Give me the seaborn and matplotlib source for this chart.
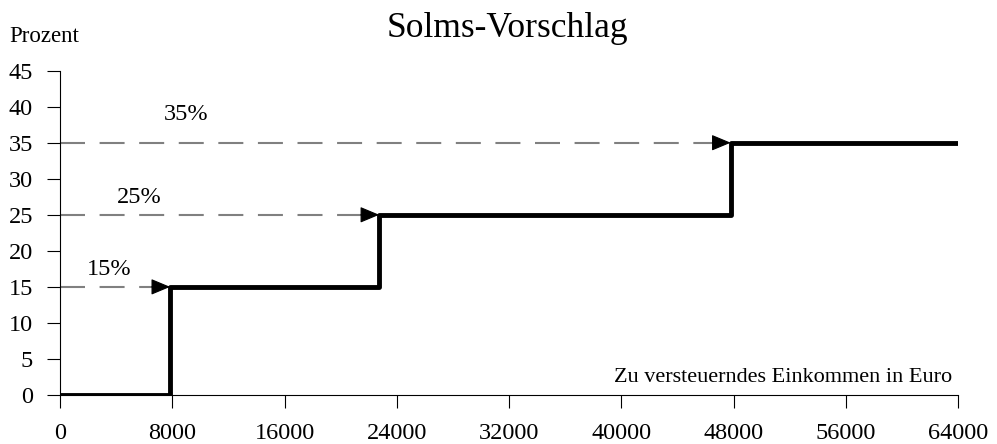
import numpy as np
import pandas as pd
import matplotlib.pyplot as plt
import seaborn as sns

# Solms proposal: step tax rate over taxable income
income = [0, 7850, 22750, 47800, 64000]
rate = [0, 15, 25, 35, 35]

# dashed arrow annotations (rate level, step income, label position)
arrow_rates = [15, 25, 35]
arrow_ends = [7850, 22750, 47800]
label_texts = ["15%", "25%", "35%"]
label_x = [3490, 5630, 9020]
label_y = [16.6, 26.7, 38.1]

x_ticks = list(range(0, 64001, 8000))
y_ticks = list(range(0, 46, 5))

sns.set_style("ticks", {'text.color': 'black', 'axes.edgecolor': 'black',
                        'xtick.color': 'black', 'ytick.color': 'black',
                        'axes.labelcolor': 'black'})
plt.rcParams['font.family'] = ['Liberation Serif', 'DejaVu Serif']

data = pd.DataFrame({'income': income, 'rate': rate})

fig = plt.figure(figsize=(9.97, 4.44), dpi=100)
ax = fig.add_axes([0.0602, 0.1104, 0.9007, 0.7305])

sns.lineplot(data=data, x='income', y='rate', drawstyle='steps-post',
             color='black', linewidth=3.5, estimator=None, sort=False, ax=ax)

for r, xe, t, lx, ly in zip(arrow_rates, arrow_ends, label_texts, label_x, label_y):
    ax.plot([0, xe - 900], [r, r], color='gray', linewidth=1.5,
            dashes=(12, 7), zorder=1)
    ax.annotate('', xy=(xe, r), xytext=(xe - 1300, r),
                arrowprops=dict(arrowstyle='-|>,head_length=0.6,head_width=0.25',
                                color='black', lw=0.8,
                                mutation_scale=20, shrinkA=0, shrinkB=0))
    ax.text(lx, ly, t, fontsize=17.5, ha='center', va='baseline', color='black')

ax.set_xlim(0, 64000)
ax.set_ylim(0, 45)
ax.set_xticks(x_ticks)
ax.set_yticks(y_ticks)
ax.set_xlabel('')
ax.set_ylabel('')
ax.tick_params(axis='both', labelsize=17.5, length=9.5, width=0.8, direction='out',
               colors='black')
ax.tick_params(axis='x', pad=10.5)
ax.tick_params(axis='y', pad=10)
for s in ['top', 'right']:
    ax.spines[s].set_visible(False)
for s in ['left', 'bottom']:
    ax.spines[s].set_linewidth(0.8)
    ax.spines[s].set_color('black')

fig.text(0.509, 0.9167, 'Solms-Vorschlag', fontsize=25.5, ha='center', va='baseline',
         color='black')
fig.text(0.009, 0.9054, 'Prozent', fontsize=16.5, ha='left', va='baseline', color='black')
fig.text(0.9546, 0.1403, 'Zu versteuerndes Einkommen in Euro',
         fontsize=16, ha='right', va='baseline', color='black')

fig.savefig('out.png', dpi=100)
